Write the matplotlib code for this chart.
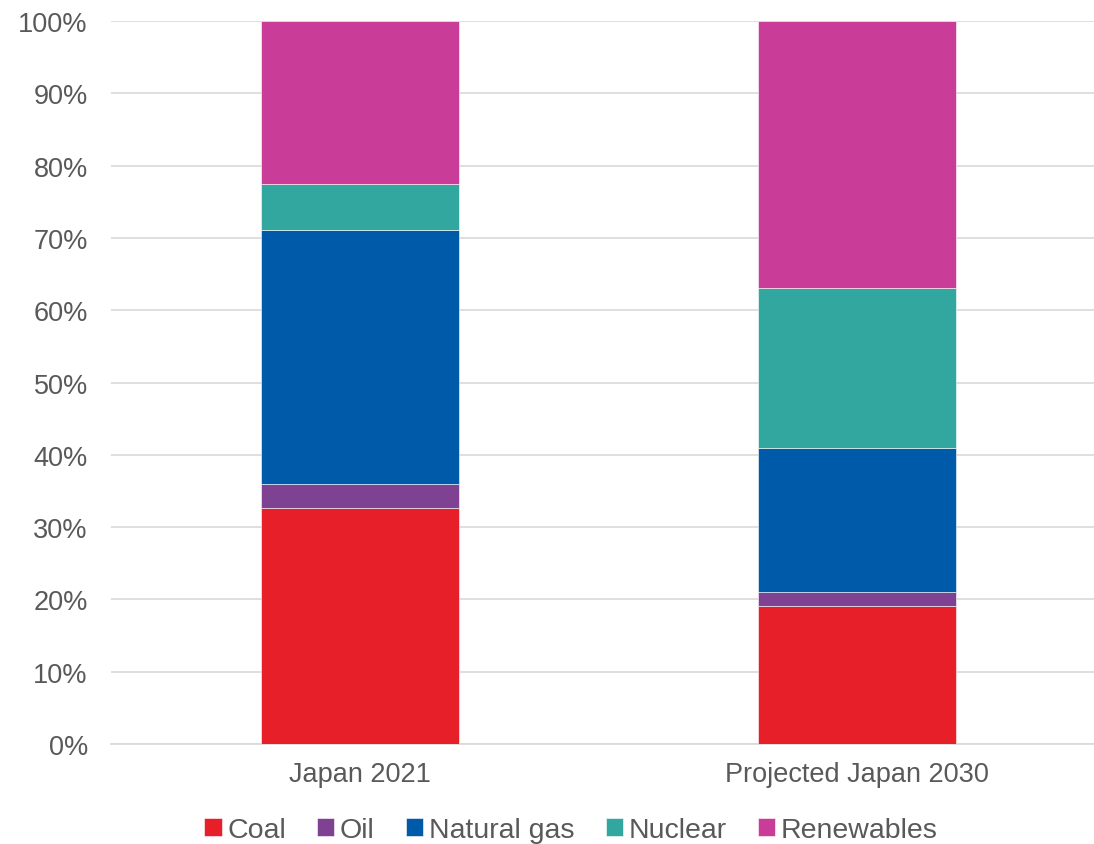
import matplotlib
matplotlib.use("Agg")
from matplotlib import pyplot as plt
import numpy as np

plt.rcParams['font.family'] = ['Liberation Sans', 'DejaVu Sans']

categories = ["Japan 2021", "Projected Japan 2030"]
sources = ["Coal", "Oil", "Natural gas", "Nuclear", "Renewables"]
coal = [32.6, 19.1]
oil = [3.4, 1.9]
natural_gas = [35.1, 19.9]
nuclear = [6.4, 22.2]
renewables = [22.5, 36.9]
colors = ["#e61f28", "#7f4293", "#005aaa", "#32a79f", "#c93c97"]

fig = plt.figure(figsize=(10.94, 8.45), dpi=100)
ax = fig.add_axes([0.1019, 0.1183, 0.9086, 0.8557])

x = np.arange(len(categories))
bottom = np.zeros(len(categories))
for name, vals, c in zip(sources, [coal, oil, natural_gas, nuclear, renewables], colors):
    ax.bar(x, vals, 0.4, bottom=bottom, color=c, label=name,
           edgecolor='#ffffff', linewidth=0.4, zorder=3)
    bottom += np.array(vals)

ax.set_xlim(-0.5, 1.5)
ax.set_ylim(0, 100)
ax.set_yticks(np.arange(0, 101, 10))
ax.set_yticklabels([f"{v}%" for v in range(0, 101, 10)])
ax.set_xticks(x)
ax.set_xticklabels(categories)
ax.grid(axis='y', color='#d9d9d9', linewidth=1.2, zorder=0)
for s in ['top', 'right', 'left']:
    ax.spines[s].set_visible(False)
ax.spines['bottom'].set_color('#d9d9d9')
ax.spines['bottom'].set_linewidth(1.2)
ax.tick_params(axis='both', length=0, labelsize=19.5, colors='#595959')
ax.tick_params(axis='y', pad=17)
ax.tick_params(axis='x', pad=12)

fig.legend(loc='center', bbox_to_anchor=(0.522, 0.016), ncol=5, frameon=False,
           fontsize=20.5, labelcolor='#595959', handlelength=0.6, handleheight=0.6,
           handletextpad=0.2, columnspacing=1.1)

fig.savefig("out.png", dpi=100)
